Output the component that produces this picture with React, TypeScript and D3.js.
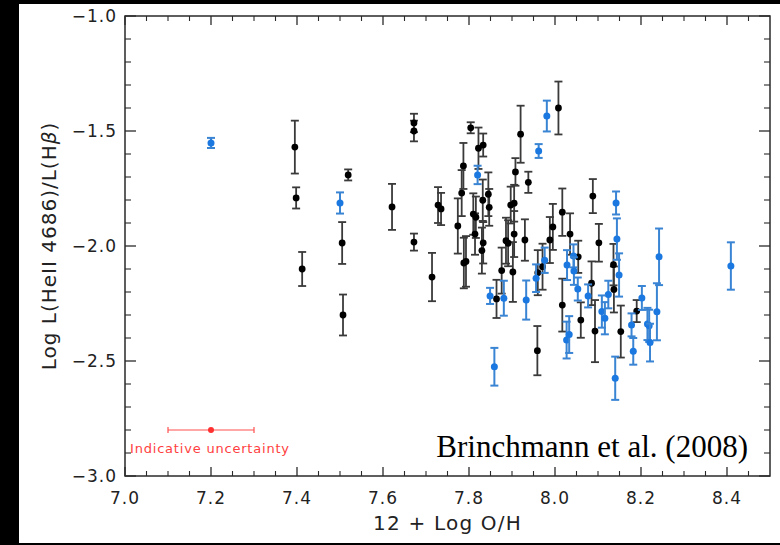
import React from 'react';
import * as d3 from 'd3';

// Black galaxies: 12+log(O/H), log L(HeII)/L(Hβ), error
const blackOH = [7.395, 7.398, 7.412, 7.505, 7.507, 7.519, 7.621, 7.672, 7.672, 7.672, 7.714, 7.728, 7.735, 7.774, 7.783, 7.787, 7.788, 7.793, 7.804, 7.822, 7.833, 7.845, 7.832, 7.847, 7.810, 7.816, 7.814, 7.833, 7.830, 7.864, 7.876, 7.902, 7.897, 7.905, 7.886, 7.891, 7.905, 7.908, 7.920, 7.930, 7.938, 7.960, 7.959, 7.971, 7.988, 7.995, 8.008, 8.017, 8.017, 8.035, 8.054, 8.060, 8.085, 8.088, 8.093, 8.102, 8.136, 8.137, 8.153, 8.190];
const blackLogRatio = [-1.570, -1.791, -2.100, -1.987, -2.300, -1.691, -1.830, -1.465, -1.500, -1.983, -2.135, -1.822, -1.839, -1.913, -1.770, -1.652, -2.074, -2.067, -1.486, -1.575, -1.561, -1.775, -1.801, -1.832, -1.861, -1.875, -1.948, -1.986, -2.020, -2.230, -2.107, -2.113, -1.822, -1.814, -1.977, -1.988, -1.948, -1.678, -1.514, -1.974, -1.723, -2.116, -2.455, -2.090, -1.974, -1.917, -1.400, -1.853, -2.257, -1.948, -2.047, -2.322, -2.162, -1.783, -2.370, -1.986, -2.081, -2.189, -2.372, -2.283];
const blackErr = [0.115, 0.046, 0.074, 0.091, 0.089, 0.024, 0.100, 0.040, 0.045, 0.037, 0.105, 0.078, 0.070, 0.120, 0.100, 0.100, 0.110, 0.110, 0.024, 0.090, 0.050, 0.095, 0.090, 0.080, 0.090, 0.090, 0.090, 0.090, 0.100, 0.083, 0.100, 0.130, 0.080, 0.080, 0.100, 0.100, 0.100, 0.060, 0.124, 0.090, 0.046, 0.098, 0.107, 0.100, 0.100, 0.100, 0.115, 0.103, 0.115, 0.090, 0.070, 0.077, 0.095, 0.074, 0.135, 0.082, 0.090, 0.100, 0.113, 0.048];

// Blue galaxies
const blueOH = [7.200, 7.500, 7.820, 7.962, 7.981, 7.849, 7.881, 7.933, 7.859, 7.956, 7.976, 8.028, 8.043, 8.044, 8.053, 8.077, 8.124, 8.109, 8.116, 8.027, 8.033, 8.142, 8.144, 8.149, 8.140, 8.178, 8.182, 8.202, 8.215, 8.219, 8.221, 8.237, 8.242, 8.409];
const blueLogRatio = [-1.552, -1.813, -1.691, -1.587, -1.435, -2.217, -2.227, -2.235, -2.525, -2.140, -2.062, -2.083, -2.043, -2.109, -2.187, -2.217, -2.211, -2.285, -2.314, -2.409, -2.385, -1.813, -1.970, -2.126, -2.575, -2.343, -2.458, -2.226, -2.339, -2.347, -2.420, -2.286, -2.047, -2.087];
const blueErr = [0.022, 0.046, 0.040, 0.030, 0.067, 0.035, 0.076, 0.085, 0.082, 0.060, 0.055, 0.065, 0.050, 0.060, 0.050, 0.050, 0.060, 0.070, 0.070, 0.080, 0.080, 0.050, 0.090, 0.094, 0.094, 0.050, 0.058, 0.052, 0.070, 0.070, 0.082, 0.124, 0.123, 0.103];

// Indicative uncertainty marker
const indicativeOH = [7.2];
const indicativeLogRatio = [-2.8];
const indicativeXErr = [0.1];

const xTicks = [7.0, 7.2, 7.4, 7.6, 7.8, 8.0, 8.2, 8.4];
const yTicks = [-1.0, -1.5, -2.0, -2.5, -3.0];

const W = 780, H = 545;
const left = 125, right = 770, top = 16, bottom = 476;

export default function App() {
  const x = d3.scaleLinear().domain([7.0, 8.5]).range([left, right]);
  const y = d3.scaleLinear().domain([-3.0, -1.0]).range([bottom, top]);
  const xMinor = d3.range(7.0, 8.5001, 0.05).filter(v => !xTicks.some(t => Math.abs(t - v) < 1e-6) && v < 8.499);
  const yMinor = d3.range(-3.0, -0.9999, 0.1).filter(v => !yTicks.some(t => Math.abs(t - v) < 1e-6));
  const axisColor = '#2a2a2a';
  const tickFont = { fontFamily: 'DejaVu Sans', fontSize: 17, letterSpacing: 1, fill: '#222' } as const;
  const cap = 4;

  const black = blackOH.map((v, i) => ({ xv: v, yv: blackLogRatio[i], e: blackErr[i] }));
  const blue = blueOH.map((v, i) => ({ xv: v, yv: blueLogRatio[i], e: blueErr[i] }));
  const fmt = (v: number) => (v < 0 ? '\u2212' : '') + Math.abs(v).toFixed(1);

  return (
    <svg width={W} height={H} style={{ position: 'absolute', left: 0, top: 0, display: 'block' }}>
      <rect x={0} y={0} width={W} height={H} fill="#000" />
      <rect x={19} y={4} width={W - 19} height={539} fill="#fff" />

      {/* frame */}
      <rect x={left} y={top} width={right - left} height={bottom - top} fill="none" stroke={axisColor} strokeWidth={1.5} />

      {/* x ticks */}
      {xTicks.map(t => (
        <g key={'xt' + t}>
          <line x1={x(t)} x2={x(t)} y1={bottom} y2={bottom - 9} stroke={axisColor} strokeWidth={1.3} />
          <line x1={x(t)} x2={x(t)} y1={top} y2={top + 9} stroke={axisColor} strokeWidth={1.3} />
          <text x={x(t)} y={504} textAnchor="middle" {...tickFont}>{t.toFixed(1)}</text>
        </g>
      ))}
      {xMinor.map(t => (
        <g key={'xm' + t}>
          <line x1={x(t)} x2={x(t)} y1={bottom} y2={bottom - 5} stroke={axisColor} strokeWidth={1.1} />
          <line x1={x(t)} x2={x(t)} y1={top} y2={top + 5} stroke={axisColor} strokeWidth={1.1} />
        </g>
      ))}
      {/* y ticks */}
      {yTicks.map(t => (
        <g key={'yt' + t}>
          <line x1={left} x2={left + 11} y1={y(t)} y2={y(t)} stroke={axisColor} strokeWidth={1.3} />
          <line x1={right} x2={right - 11} y1={y(t)} y2={y(t)} stroke={axisColor} strokeWidth={1.3} />
          <text x={117} y={y(t) + 6} textAnchor="end" {...tickFont}>{fmt(t)}</text>
        </g>
      ))}
      {yMinor.map(t => (
        <g key={'ym' + t}>
          <line x1={left} x2={left + 6} y1={y(t)} y2={y(t)} stroke={axisColor} strokeWidth={1.1} />
          <line x1={right} x2={right - 6} y1={y(t)} y2={y(t)} stroke={axisColor} strokeWidth={1.1} />
        </g>
      ))}

      {/* axis titles */}
      <text x={(left + right) / 2} y={530} textAnchor="middle" fontFamily="DejaVu Sans" fontSize={20} letterSpacing={1.2} fill="#222">12 + Log O/H</text>
      <text transform={`translate(56,${(top + bottom) / 2}) rotate(-90)`} textAnchor="middle" fontFamily="DejaVu Sans" fontSize={20} letterSpacing={1} fill="#222">Log L(HeII 4686)/L(H<tspan fontStyle="italic">β</tspan>)</text>

      {/* black points */}
      {black.map((d, i) => (
        <g key={'b' + i}>
          <line x1={x(d.xv)} x2={x(d.xv)} y1={y(d.yv - d.e)} y2={y(d.yv + d.e)} stroke="#3a3a3a" strokeWidth={1.8} />
          <line x1={x(d.xv) - cap} x2={x(d.xv) + cap} y1={y(d.yv - d.e)} y2={y(d.yv - d.e)} stroke="#3a3a3a" strokeWidth={1.8} />
          <line x1={x(d.xv) - cap} x2={x(d.xv) + cap} y1={y(d.yv + d.e)} y2={y(d.yv + d.e)} stroke="#3a3a3a" strokeWidth={1.8} />
        </g>
      ))}
      {black.map((d, i) => (
        <circle key={'bc' + i} cx={x(d.xv)} cy={y(d.yv)} r={3.4} fill="#000" />
      ))}

      {/* blue points */}
      {blue.map((d, i) => (
        <g key={'u' + i}>
          <line x1={x(d.xv)} x2={x(d.xv)} y1={y(d.yv - d.e)} y2={y(d.yv + d.e)} stroke="#3a84d4" strokeWidth={2} />
          <line x1={x(d.xv) - cap} x2={x(d.xv) + cap} y1={y(d.yv - d.e)} y2={y(d.yv - d.e)} stroke="#3a84d4" strokeWidth={2} />
          <line x1={x(d.xv) - cap} x2={x(d.xv) + cap} y1={y(d.yv + d.e)} y2={y(d.yv + d.e)} stroke="#3a84d4" strokeWidth={2} />
          <circle cx={x(d.xv)} cy={y(d.yv)} r={3.5} fill="#1a78e0" />
        </g>
      ))}

      {/* indicative uncertainty */}
      {indicativeOH.map((v, i) => (
        <g key={'ind' + i}>
          <line x1={x(v - indicativeXErr[i])} x2={x(v + indicativeXErr[i])} y1={y(indicativeLogRatio[i])} y2={y(indicativeLogRatio[i])} stroke="#ff5050" strokeWidth={1.2} />
          <line x1={x(v - indicativeXErr[i])} x2={x(v - indicativeXErr[i])} y1={y(indicativeLogRatio[i]) - 3} y2={y(indicativeLogRatio[i]) + 3} stroke="#ff5050" strokeWidth={1.2} />
          <line x1={x(v + indicativeXErr[i])} x2={x(v + indicativeXErr[i])} y1={y(indicativeLogRatio[i]) - 3} y2={y(indicativeLogRatio[i]) + 3} stroke="#ff5050" strokeWidth={1.2} />
          <circle cx={x(v)} cy={y(indicativeLogRatio[i])} r={3} fill="#ff3030" />
        </g>
      ))}
      <text x={130} y={453} fontFamily="DejaVu Sans" fontSize={13} letterSpacing={0.8} fill="#ff4040">Indicative uncertainty</text>

      <text x={748} y={457} textAnchor="end" fontFamily="Liberation Serif" fontSize={31} fill="#000">Brinchmann et al. (2008)</text>
    </svg>
  );
}
